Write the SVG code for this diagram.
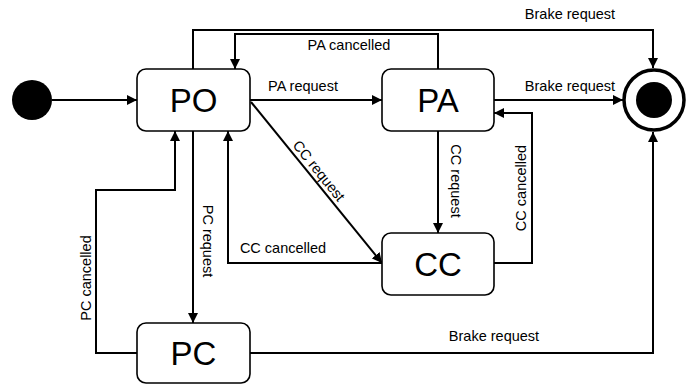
<svg xmlns="http://www.w3.org/2000/svg" width="690" height="385" viewBox="0 0 690 385">
<defs>
<marker id="arr" viewBox="0 0 10 10" refX="10" refY="5" markerWidth="10" markerHeight="10" markerUnits="userSpaceOnUse" orient="auto">
<path d="M0,0 L10,5 L0,10 z" fill="#000"/>
</marker>
<style>
.box{fill:#fff;stroke:#000;stroke-width:1.6}
.st{font-family:"Liberation Sans",Arial,sans-serif;font-size:33px;fill:#000;text-anchor:middle}
.c{fill:none;stroke:#000;stroke-width:2;marker-end:url(#arr)}
.n{fill:none;stroke:#000;stroke-width:2}
.lb{font-family:"Liberation Sans",Arial,sans-serif;font-size:14.5px;fill:#000;text-anchor:middle}
</style>
</defs>
<rect width="690" height="385" fill="#fff"/>
<g id="connectors">
<path class="c" d="M52,100 H137"/>
<path class="c" d="M193,69 V30 H653 V68"/>
<path class="c" d="M438,69 V34 H235 V69"/>
<path class="c" d="M250,100 H382"/>
<path class="c" d="M494,100 H623"/>
<path class="c" d="M438,131 V233"/>
<path class="c" d="M494,263 H532 V113 H494"/>
<path class="c" d="M251,102 L382,263"/>
<path class="c" d="M382,263 H228 V131"/>
<path class="c" d="M193,131 V323"/>
<path class="c" d="M137,353 H96 V190 H175 V131"/>
<path class="c" d="M250,353 H653 V132"/>
<text class="lb" x="570" y="19">Brake request</text>
<text class="lb" x="349" y="50">PA cancelled</text>
<text class="lb" x="303" y="91">PA request</text>
<text class="lb" x="570" y="91">Brake request</text>
<text class="lb" x="315" y="174" transform="rotate(51 315 174)">CC request</text>
<text class="lb" x="283" y="253">CC cancelled</text>
<text class="lb" x="451" y="181" transform="rotate(90 451 181)">CC request</text>
<text class="lb" x="526" y="188" transform="rotate(-90 526 188)">CC cancelled</text>
<text class="lb" x="203" y="241" transform="rotate(90 203 241)">PC request</text>
<text class="lb" x="91" y="278" transform="rotate(-90 91 278)">PC cancelled</text>
<text class="lb" x="494" y="341">Brake request</text>
</g>
<g id="initial"><circle cx="32" cy="100" r="20" fill="#000"/></g>
<g id="PO"><rect class="box" x="137" y="69" width="113" height="62" rx="9"/><text class="st" x="193.5" y="112">PO</text></g>
<g id="PA"><rect class="box" x="382" y="69" width="112" height="62" rx="9"/><text class="st" x="438" y="112">PA</text></g>
<g id="CC"><rect class="box" x="382" y="233" width="112" height="62" rx="9"/><text class="st" x="438" y="276">CC</text></g>
<g id="PC"><rect class="box" x="137" y="323" width="113" height="60" rx="9"/><text class="st" x="193.5" y="365">PC</text></g>
<g id="final"><circle cx="654" cy="100" r="30" fill="#fff" stroke="#000" stroke-width="3.5"/><circle cx="654" cy="100" r="18" fill="#000"/></g>
</svg>
